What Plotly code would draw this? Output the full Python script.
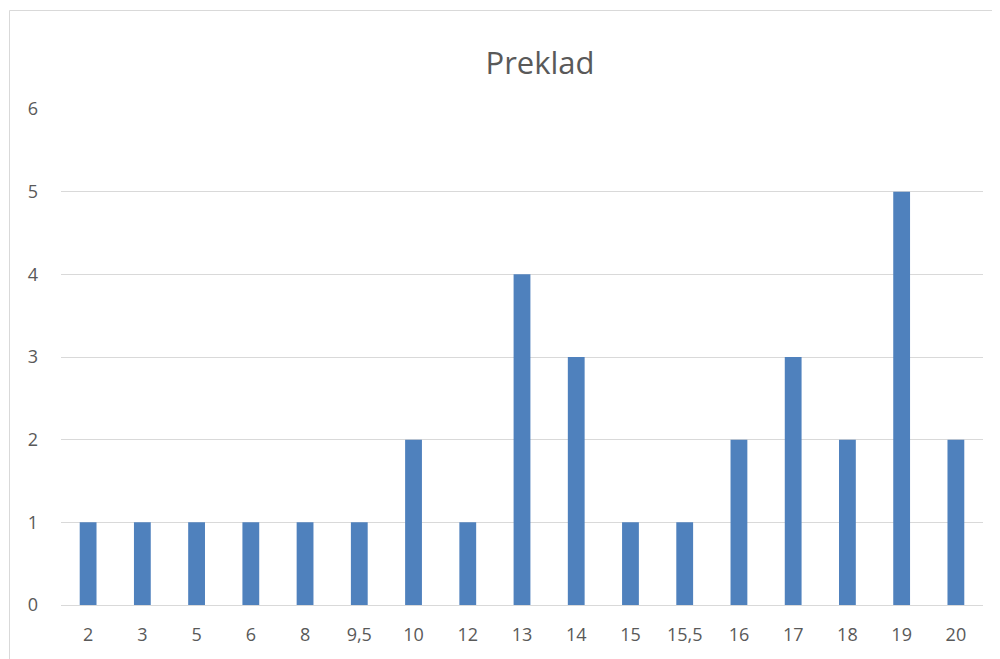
import plotly.graph_objects as go

categories = ["2", "3", "5", "6", "8", "9,5", "10", "12", "13", "14", "15", "15,5", "16", "17", "18", "19", "20"]
values = [1, 1, 1, 1, 1, 1, 2, 1, 4, 3, 1, 1, 2, 3, 2, 5, 2]
y_ticks = [0, 1, 2, 3, 4, 5, 6]

# page body has an 8px margin, so the figure is offset by (8, 8)
W, H = 992, 651
L, R, T, B = 53, 17, 101, 54
pw, ph = W - L - R, H - T - B

fig = go.Figure(go.Bar(x=categories, y=values, marker=dict(color="#4f81bd", line=dict(width=0)),
                       width=0.31))

fig.update_layout(
    width=W, height=H,
    margin=dict(l=L, r=R, t=T, b=B),
    paper_bgcolor="white", plot_bgcolor="white",
    font=dict(family="Open Sans", size=18, color="#595959"),
    title=dict(text="Preklad", x=532 / W, xref="container", xanchor="center",
               y=1 - 55 / H, yref="container", yanchor="middle",
               font=dict(size=31, color="#595959")),
    showlegend=False,
    xaxis=dict(type="category", showgrid=False, showline=True, linecolor="#d9d9d9", linewidth=1,
               ticks="", ticklabelstandoff=13, zeroline=False),
    yaxis=dict(range=[0, 6], tickvals=y_ticks, showgrid=True, gridcolor="#d9d9d9", gridwidth=1,
               zeroline=False, showline=False, ticks="", ticklabelstandoff=22),
    shapes=[dict(type="rect", xref="paper", yref="paper",
                 x0=(1.5 - L) / pw, x1=1.2, y0=-0.3, y1=(H - B - 2.5) / ph,
                 line=dict(color="#d9d9d9", width=1), fillcolor="rgba(0,0,0,0)", layer="below")],
)

fig.write_html("out.html")
